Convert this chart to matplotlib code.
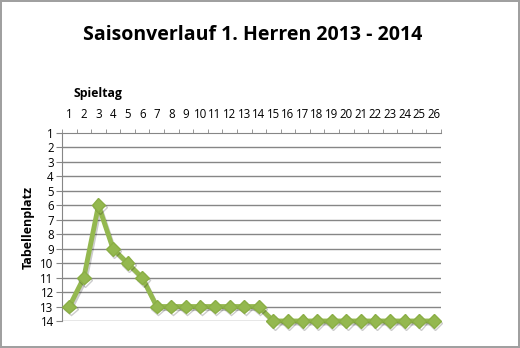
import matplotlib.pyplot as plt
import matplotlib.patheffects as pe

spieltage = list(range(1, 27))
platz = [13, 11, 6, 9, 10, 11, 13, 13, 13, 13, 13, 13, 13, 13,
         14, 14, 14, 14, 14, 14, 14, 14, 14, 14, 14, 14]

plt.rcParams['font.family'] = ['Open Sans', 'DejaVu Sans']

fig = plt.figure(figsize=(5.2, 3.48), dpi=100)
fig.patch.set_edgecolor('#a0a0a0')
fig.patch.set_linewidth(1.5)
ax = fig.add_axes([62 / 520, 1 - 321 / 348, 379 / 520, 188 / 348])

grid_col = '#868686'
for y in range(2, 15):
    ax.axhline(y, color=grid_col, lw=1, zorder=1)

ax.plot(spieltage, platz, color='#94b84f', lw=3.5, marker='D', ms=7,
        markeredgecolor='#8aae45', zorder=3, clip_on=False,
        path_effects=[pe.SimpleLineShadow(offset=(1, -1.5), alpha=0.2),
                      pe.Normal()])

ax.set_xlim(0.5, 26.5)
ax.set_ylim(14, 1)
ax.xaxis.tick_top()
ax.set_xticks(spieltage)
ax.set_xticks([i + 0.5 for i in range(0, 27)], minor=True)
ax.tick_params(axis='x', which='major', length=0, pad=9, labelsize=8.3)
ax.tick_params(axis='x', which='minor', length=3, color=grid_col, top=True)
ax.set_yticks(range(1, 15))
ax.tick_params(axis='y', length=4, color=grid_col, labelsize=8.3, pad=2)

for s in ['right', 'bottom']:
    ax.spines[s].set_visible(False)
for s in ['top', 'left']:
    ax.spines[s].set_color(grid_col)

ax.text(0.095, 1.21, 'Spieltag', transform=ax.transAxes, ha='center',
        va='center', fontsize=8.8, fontweight='bold')
ax.set_ylabel('Tabellenplatz', fontsize=9, fontweight='bold', labelpad=4)

fig.text(0.485, 0.9, 'Saisonverlauf 1. Herren 2013 - 2014', ha='center',
         va='center', fontsize=14, fontweight='bold')

fig.savefig('out.png', dpi=100)
